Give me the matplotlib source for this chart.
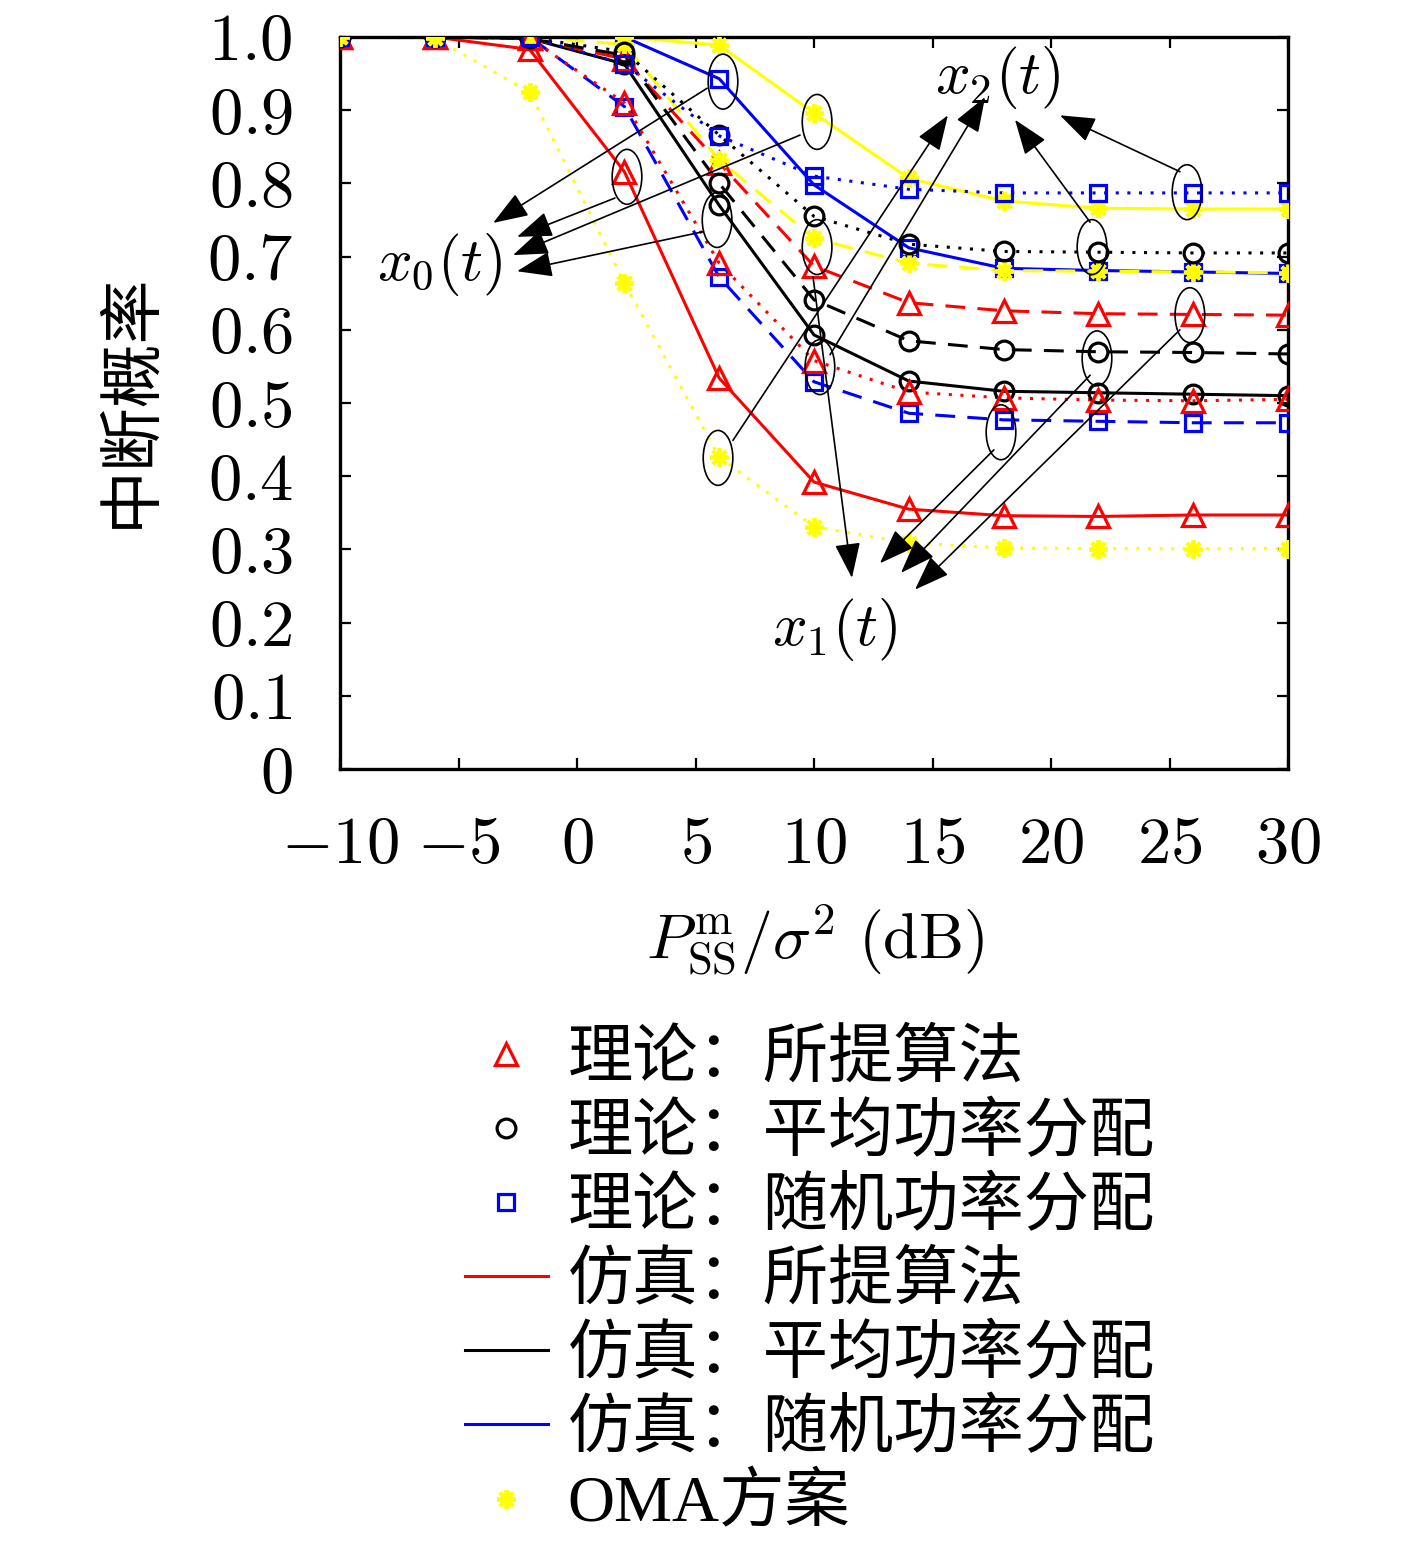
import matplotlib
matplotlib.use("Agg")
import matplotlib.pyplot as plt
from matplotlib.patches import Ellipse
from matplotlib.lines import Line2D
from matplotlib.ticker import FuncFormatter, FixedLocator
from matplotlib.font_manager import FontProperties

plt.rcParams['mathtext.fontset'] = 'cm'
plt.rcParams['font.family'] = ['Liberation Serif', 'Noto Sans CJK SC', 'DejaVu Sans']

# ---------------- data ----------------
snr = [-10, -6, -2, 2, 6, 10, 14, 18, 22, 26, 30]

# user x0 (solid)
prop_x0 = [1.0, 1.0, 0.983, 0.816, 0.534, 0.392, 0.355, 0.346, 0.345, 0.347, 0.347]
equal_x0 = [1.0, 1.0, 0.998, 0.963, 0.770, 0.593, 0.530, 0.516, 0.514, 0.512, 0.510]
rand_x0 = [1.0, 1.0, 1.0, 1.0, 0.943, 0.798, 0.712, 0.684, 0.681, 0.679, 0.677]
oma_x0 = [1.0, 1.0, 1.0, 1.0, 0.989, 0.896, 0.807, 0.776, 0.766, 0.765, 0.765]

# user x1 (dashed)
prop_x1 = [1.0, 1.0, 0.998, 0.970, 0.828, 0.687, 0.637, 0.626, 0.622, 0.621, 0.620]
equal_x1 = [1.0, 1.0, 0.998, 0.975, 0.800, 0.641, 0.585, 0.573, 0.570, 0.569, 0.567]
rand_x1 = [1.0, 1.0, 1.0, 0.905, 0.672, 0.529, 0.486, 0.477, 0.475, 0.473, 0.473]
oma_x1 = [1.0, 1.0, 1.0, 0.990, 0.832, 0.725, 0.691, 0.681, 0.680, 0.679, 0.678]

# user x2 (dotted)
prop_x2 = [1.0, 1.0, 0.998, 0.910, 0.691, 0.558, 0.515, 0.507, 0.504, 0.503, 0.505]
equal_x2 = [1.0, 1.0, 0.999, 0.980, 0.866, 0.755, 0.717, 0.707, 0.706, 0.705, 0.705]
rand_x2 = [1.0, 1.0, 1.0, 0.963, 0.865, 0.810, 0.792, 0.787, 0.787, 0.787, 0.787]
oma_x2 = [1.0, 0.998, 0.925, 0.664, 0.426, 0.331, 0.309, 0.302, 0.301, 0.301, 0.301]

x_ticks = [-10, -5, 0, 5, 10, 15, 20, 25, 30]
y_ticks = [0, 0.1, 0.2, 0.3, 0.4, 0.5, 0.6, 0.7, 0.8, 0.9, 1.0]

legend_labels = ['理论：所提算法', '理论：平均功率分配', '理论：随机功率分配',
                 '仿真：所提算法', '仿真：平均功率分配', '仿真：随机功率分配', 'OMA方案']
ylabel_text = '中断概率'
xlabel_text = r'$P_{\mathrm{SS}}^{\mathrm{m}}/\sigma^2\ (\mathrm{dB})$'

# ---------------- styles ----------------
RED, BLK, BLU, YEL = '#ff0000', '#000000', '#0000ff', '#ffff00'
LW = 2.2
styles = {'x0': '-', 'x1': (0, (6.5, 4)), 'x2': (0, (1, 2.8))}
STAR = (8, 2, 0)
mk = {
    RED: dict(marker='^', ms=16, mew=2.3, mfc='none', mec=RED),
    BLK: dict(marker='o', ms=13.5, mew=2.3, mfc='none', mec=BLK),
    BLU: dict(marker='s', ms=11.5, mew=2.3, mfc='none', mec=BLU),
    YEL: dict(marker=STAR, ms=13.5, mew=2.8, mfc=YEL, mec=YEL),
}

fig = plt.figure(figsize=(14.17, 15.54), dpi=100)
ax = fig.add_axes([340/1417, 1-769/1554, 948/1417, 732/1554])

groups = [
    ('x0', [(prop_x0, RED), (equal_x0, BLK), (rand_x0, BLU), (oma_x0, YEL)]),
    ('x1', [(prop_x1, RED), (equal_x1, BLK), (rand_x1, BLU), (oma_x1, YEL)]),
    ('x2', [(prop_x2, RED), (equal_x2, BLK), (rand_x2, BLU), (oma_x2, YEL)]),
]
for user, series in groups:
    for vals, col in series:
        ax.plot(snr, vals, color=col, linestyle=styles[user], lw=LW, zorder=2)
for user, series in groups:
    for vals, col in series:
        ax.plot(snr, vals, linestyle='none', zorder=3, **mk[col])

ax.set_xlim(-10, 30)
ax.set_ylim(0, 1)
ax.xaxis.set_major_locator(FixedLocator(x_ticks))
ax.yaxis.set_major_locator(FixedLocator(y_ticks))
ax.xaxis.set_major_formatter(FuncFormatter(lambda v, p: r'$%d$' % round(v)))
ax.yaxis.set_major_formatter(FuncFormatter(lambda v, p: r'$0$' if abs(v) < 1e-9 else r'$%.1f$' % v))
ax.tick_params(axis='both', direction='in', length=8, width=1.6, labelsize=48,
               top=True, right=True, pad=34)
for sp in ax.spines.values():
    sp.set_linewidth(2.4)

fig.text(130/1417, 1-400/1554, ylabel_text, rotation=90, ha='center', va='center',
         fontsize=46, family=['Noto Sans CJK SC'])
fig.text(815/1417, 1-940/1554, xlabel_text, ha='center', va='center', fontsize=46)

# ---------------- annotations ----------------
EW, EH = 1.25, 0.075
ellipses = [
    (6.16, 0.939), (2.11, 0.809), (10.13, 0.884), (5.91, 0.750),      # x0
    (10.13, 0.713), (17.89, 0.460), (21.94, 0.561), (25.86, 0.620),   # x1
    (5.95, 0.425), (10.25, 0.549), (21.73, 0.713), (25.74, 0.788),    # x2
]
for c in ellipses:
    ax.add_patch(Ellipse(c, EW, EH, fill=False, ec='black', lw=1.2, zorder=4))

arrows = [
    # x0
    ((5.49, 0.930), (-3.54, 0.746)),
    ((1.60, 0.780), (-2.53, 0.727)),
    ((9.41, 0.866), (-2.70, 0.702)),
    ((5.32, 0.734), (-2.53, 0.680)),
    # x1
    ((9.96, 0.672), (11.60, 0.261)),
    ((17.59, 0.436), (12.78, 0.281)),
    ((21.65, 0.538), (13.67, 0.268)),
    ((25.44, 0.600), (14.26, 0.245)),
    # x2
    ((6.58, 0.449), (15.65, 0.893)),
    ((10.68, 0.566), (17.22, 0.918)),
    ((21.65, 0.747), (18.48, 0.887)),
    ((25.44, 0.816), (20.38, 0.893)),
]
for start, tip in arrows:
    ax.annotate('', xy=tip, xytext=start, zorder=5,
                arrowprops=dict(arrowstyle='-|>,head_length=1.1,head_width=0.4',
                                mutation_scale=20, color='black', lw=1.2,
                                shrinkA=0, shrinkB=0))

ax.text(-5.78, 0.689, r'$x_0(t)$', fontsize=44, ha='center', va='center', zorder=6)
ax.text(10.89, 0.19, r'$x_1(t)$', fontsize=44, ha='center', va='center', zorder=6)
ax.text(17.76, 0.944, r'$x_2(t)$', fontsize=44, ha='center', va='center', zorder=6)

# ---------------- legend ----------------
handles = [
    Line2D([], [], linestyle='none', **mk[RED]),
    Line2D([], [], linestyle='none', **mk[BLK]),
    Line2D([], [], linestyle='none', **mk[BLU]),
    Line2D([], [], color=RED, lw=LW),
    Line2D([], [], color=BLK, lw=LW),
    Line2D([], [], color=BLU, lw=LW),
    Line2D([], [], linestyle='none', **mk[YEL]),
]
fp = FontProperties(family=['Liberation Serif', 'Noto Sans CJK SC'], size=47)
fig.legend(handles, legend_labels, loc='upper left',
           bbox_to_anchor=(465/1417, 1-1030/1554), frameon=False, prop=fp,
           handlelength=1.27, handletextpad=0.3, labelspacing=0.2,
           borderpad=0, borderaxespad=0)

fig.savefig('out.png', dpi=100, facecolor='white')
